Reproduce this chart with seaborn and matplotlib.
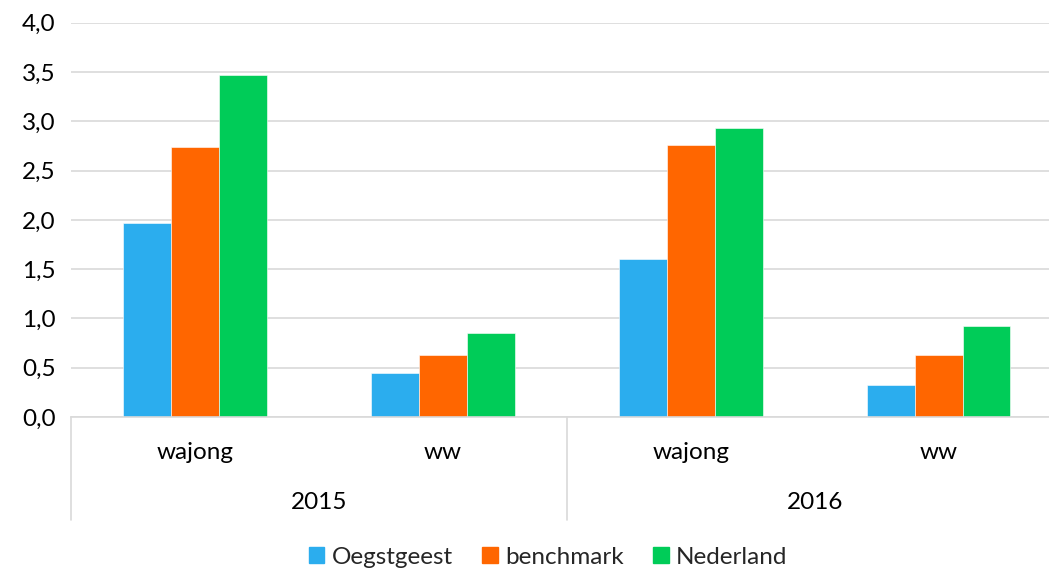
import pandas as pd
import numpy as np
import matplotlib.pyplot as plt
import matplotlib.transforms as mtransforms
from matplotlib.ticker import FuncFormatter
import seaborn as sns

# data
years = ['2015', '2016']
regelingen = ['wajong', 'ww']
series = ['Oegstgeest', 'benchmark', 'Nederland']
oegstgeest = [1.97, 0.45, 1.60, 0.32]
benchmark = [2.74, 0.63, 2.76, 0.63]
nederland = [3.47, 0.85, 2.93, 0.92]
colors = ['#2BADEE', '#FF6600', '#00CC58']

# long table for seaborn
cats = [f'{y} {r}' for y in years for r in regelingen]
rows = []
for name, vals in zip(series, [oegstgeest, benchmark, nederland]):
    for c, v in zip(cats, vals):
        rows.append({'cat': c, 'serie': name, 'waarde': v})
df = pd.DataFrame(rows)

sns.set_style('white')
plt.rcParams['font.family'] = ['Lato', 'DejaVu Sans']
fs = 17.5

W, H = 1049, 569
fig = plt.figure(figsize=(W / 100, H / 100), dpi=100)
ax = fig.add_axes([71 / W, (H - 417) / H, (W - 71) / W, (417 - 22.7) / H])

sns.barplot(data=df, x='cat', y='waarde', hue='serie', order=cats,
            hue_order=series, palette=colors, width=0.58, ax=ax,
            edgecolor='white', linewidth=0.4, saturation=1)

ax.set_ylim(0, 4)
ax.set_xlim(-0.5, 3.5 - 13.5 / 248)
ax.set_yticks(np.arange(0, 4.01, 0.5))
ax.yaxis.set_major_formatter(FuncFormatter(lambda v, p: f'{v:.1f}'.replace('.', ',')))
ax.yaxis.grid(True, color='#d9d9d9', linewidth=1.2)
ax.set_axisbelow(True)
for s in ['left', 'right', 'top']:
    ax.spines[s].set_visible(False)
ax.spines['bottom'].set_color('#d9d9d9')
ax.spines['bottom'].set_linewidth(1.2)

ax.set_xticks(range(len(cats)))
ax.set_xticklabels([r for y in years for r in regelingen], fontsize=fs, color='#000000')
ax.tick_params(axis='x', length=0, pad=18)
ax.tick_params(axis='y', length=0, labelsize=fs, pad=11, labelcolor='#000000')
ax.set_xlabel('')
ax.set_ylabel('')

# year labels and separators below the axis
trans = mtransforms.blended_transform_factory(ax.transData, ax.transAxes)
for i, y in enumerate(years):
    ax.text(2 * i + 0.5, -0.218, y, transform=trans, ha='center', va='center',
            fontsize=fs, color='#000000')
for xs in [-0.5, 1.5, 3.5]:
    ax.plot([xs, xs], [0, -0.262], transform=trans, color='#d9d9d9',
            linewidth=1.2, clip_on=False)

ax.get_legend().remove()
handles = [plt.Rectangle((0, 0), 1, 1, color=c) for c in colors]
fig.legend(handles, series, loc='center', bbox_to_anchor=(548 / W, 1 - 557 / H),
           ncol=3, frameon=False, fontsize=fs, handlelength=0.65, handleheight=0.65,
           handletextpad=0.3, columnspacing=1.2)

fig.savefig('out.png', dpi=100)
